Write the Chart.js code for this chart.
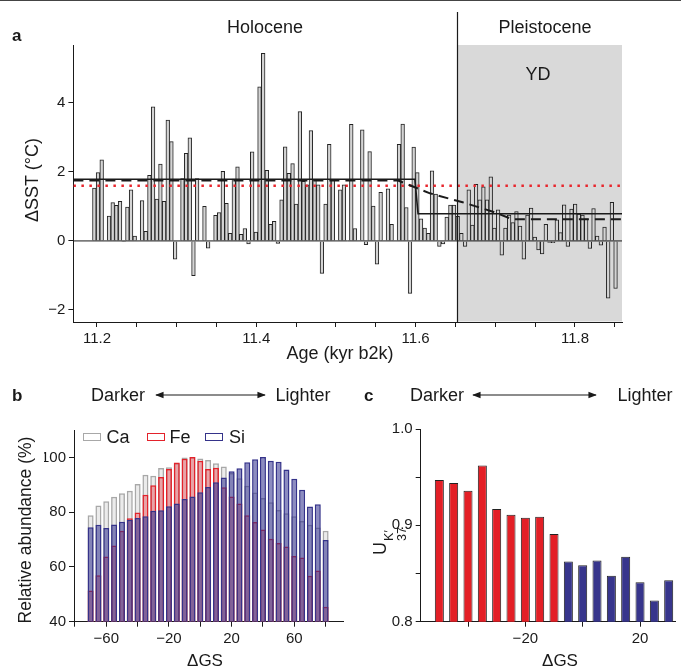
<!DOCTYPE html>
<html>
<head>
<meta charset="utf-8">
<script src="https://cdn.jsdelivr.net/npm/chart.js@4.4.1/dist/chart.umd.min.js"></script>
<style>
  body { margin: 0; background: #fff; }
  #fig { position: relative; width: 681px; height: 670px; overflow: hidden; font-family: "Liberation Sans", Arial, sans-serif; color: #1a1a1a; }
  #fig canvas { position: absolute; left: 0; top: 0; }
  #fig svg { position: absolute; left: 0; top: 0; }
  .t { position: absolute; white-space: nowrap; font-size: 17px; line-height: 1; transform: translate(-50%, -50%); }
  .big { font-size: 18px; }
  .rot { transform: translate(-50%, -50%) rotate(-90deg); }
  .lab { position: absolute; font-weight: bold; font-size: 17px; line-height: 1; }
  .topline { position: absolute; left: 0; top: 0; width: 681px; height: 1px; background: #444; }
  .key { position: absolute; width: 16px; height: 6px; border: 1.5px solid; background: #fff; }
  .ss { display: inline-flex; flex-direction: column; font-size: 12.5px; line-height: 1.0; vertical-align: -7px; margin-left: 1px; }
</style>
</head>
<body>
<div id="fig">
  <div class="topline"></div>
  <canvas id="chartA" width="681" height="670"></canvas>
  <canvas id="chartB" width="681" height="670"></canvas>
  <canvas id="chartC" width="681" height="670"></canvas>

  <svg width="681" height="670">
    <defs>
      <marker id="ah" viewBox="0 0 10 10" refX="9" refY="5" markerWidth="7" markerHeight="7" orient="auto-start-reverse">
        <path d="M0,1 L10,5 L0,9 z" fill="#1a1a1a"/>
      </marker>
    </defs>
    <line x1="156" y1="395" x2="265" y2="395" stroke="#1a1a1a" stroke-width="1.2" marker-start="url(#ah)" marker-end="url(#ah)"/>
    <line x1="473" y1="395" x2="596" y2="395" stroke="#1a1a1a" stroke-width="1.2" marker-start="url(#ah)" marker-end="url(#ah)"/>
  </svg>

  <div class="lab" style="left:12px; top:27px;">a</div>
  <div class="t big" style="left:265px; top:27px;">Holocene</div>
  <div class="t big" style="left:545px; top:27px;">Pleistocene</div>
  <div class="t big" style="left:538px; top:74px;">YD</div>
  <div class="t rot big" style="left:32px; top:180px;">ΔSST (°C)</div>
  <div class="t big" style="left:340px; top:353px;">Age (kyr b2k)</div>

  <div class="lab" style="left:12px; top:387px;">b</div>
  <div class="t big" style="left:118px; top:395px;">Darker</div>
  <div class="t big" style="left:303px; top:395px;">Lighter</div>
  <div class="t rot" style="left:26px; top:530px; font-size:17.5px;">Relative abundance (%)</div>
  <div class="t" style="left:205px; top:660px;">ΔGS</div>
  <div class="key" style="left:83px; top:433px; border-color:#a8a8a8;"></div>
  <div class="t big" style="left:118px; top:437px;">Ca</div>
  <div class="key" style="left:147px; top:433px; border-color:#e3222b;"></div>
  <div class="t big" style="left:180px; top:437px;">Fe</div>
  <div class="key" style="left:205px; top:433px; border-color:#35338a;"></div>
  <div class="t big" style="left:237px; top:437px;">Si</div>

  <div class="lab" style="left:364px; top:387px;">c</div>
  <div class="t big" style="left:437px; top:395px;">Darker</div>
  <div class="t big" style="left:645px; top:395px;">Lighter</div>
  <div class="t rot big" style="left:389px; top:541px;">U<span class="ss"><span>K′</span><span>37</span></span></div>
  <div class="t" style="left:560px; top:660px;">ΔGS</div>
</div>

<script>
var FONT = '"Liberation Sans", Arial, sans-serif';
var INK = '#1a1a1a';
Chart.defaults.font.family = FONT;

// panel a: SST anomaly per sample (null = no value)
var ageFirst = 11.1967;
var ageStep = 0.004607;
var dsst = [
  1.53, 1.98, 2.35, null, 0.72, 1.11, 1.03, 1.15, -0.02, 0.98, 1.48, 0.14, null, 1.17, 0.28, 1.90, 3.89, 1.21, 2.23, 1.15, 3.50, 2.88, -0.53, null,
  1.81, 2.54, 2.99, -1.01, 1.81, null, 1.00, -0.21, null, 0.74, 0.82, 2.02, 1.09, 0.22, 1.79, 2.15, 0.19, 0.36, -0.09, 2.58, 0.26, 4.47, 5.44, 2.05, 0.48, 0.57, -0.07,
  1.19, 2.73, 1.96, 2.24, 1.07, 3.75, 1.73, 1.63, 3.20, 1.77, 1.63, -0.94, 1.07, 2.80, 1.77, null, 1.48, 1.63, null, 3.38, 0.36,
  null, 3.22, -0.11, 2.59, 1.01, -0.67, 1.41, null, 1.51, 0.48, null, 2.80, 3.39, 0.97, -1.52, 2.72, 1.98, 0.64, 0.37, 0.22, 2.03, 1.36, -0.16, -0.09, 0.69, 1.04, 1.04, 0.71,
  0.22, -0.16, 1.48, 0.46, 1.64, 1.19, 1.57, 1.19, 1.86, 0.37, 0.90, -0.41, 0.37, 0.75, 0.53, 0.85, 0.43, -0.53, 0.75, 0.95, 0.11,
  -0.26, -0.38, 0.48, -0.04, -0.05, 0.61, 0.24, 1.05, -0.16, 0.92, 1.07, 0.78, 0.75, 0.64, -0.22, 0.94, 0.14, -0.12, 0.40, -1.66, 1.12, -1.38
];
var ageMin = 11.1704, ageMax = 11.859;
var stepFit = [[ageMin, 1.79], [11.599, 1.79], [11.603, 0.79], [ageMax, 0.79]];
var rampFit = [[ageMin, 1.75], [11.578, 1.75], [11.618, 1.38], [11.659, 1.12], [11.698, 0.84], [11.721, 0.63], [ageMax, 0.63]];
var redLevel = 1.6;
var ydStart = 11.652;

// panel b: relative abundance per grey-scale bin
var gsB = [-70, -65, -60, -55, -50, -45, -40, -35, -30, -25, -20, -15, -10, -5, 0, 5, 10, 15, 20, 25, 30, 35, 40, 45, 50, 55, 60, 65, 70, 75, 80];
var ca = [78.9, 82.4, 84.0, 85.6, 86.9, 87.8, 90.3, 93.7, 93.3, 96.1, 96.4, 97.9, 100.0, 100.1, 99.6, 99.0, 97.9, 96.7, 94.3, 92.4, 89.6, 87.2, 85.2, 83.6, 80.8, 79.6, 78.5, 76.8, 75.4, 74.4, 73.2];
var fe = [51.4, 57.0, 63.8, 67.8, 73.2, 77.8, 79.9, 86.4, 89.8, 92.8, 95.8, 98.1, 99.5, 100.1, 98.8, 95.8, 96.2, 89.1, 85.7, 83.2, 78.9, 76.4, 73.7, 70.3, 68.7, 67.5, 64.0, 63.4, 56.8, 58.7, 45.5];
var si = [74.5, 75.4, 74.2, 75.5, 76.5, 77.2, 77.9, 78.5, 80.5, 80.7, 82.2, 83.2, 84.8, 85.7, 87.3, 89.2, 90.9, 92.7, 94.9, 96.0, 98.2, 99.3, 100.1, 98.8, 98.4, 95.6, 92.2, 88.2, 82.1, 82.9, 69.8];

// panel c: UK'37 per grey-scale bin
var gsC = [-50, -45, -40, -35, -30, -25, -20, -15, -10, -5, 0, 5, 10, 15, 20, 25, 30];
var uk37 = [0.947, 0.944, 0.936, 0.962, 0.917, 0.911, 0.908, 0.909, 0.891, 0.8625, 0.8587, 0.8635, 0.8476, 0.8674, 0.841, 0.822, 0.843];

function minus(v) { return (v < 0 ? '\u2212' : '') + Math.abs(v); }
function every(v, n) { return Math.abs(v * n - Math.round(v * n)) < 1e-6; }

function axis(min, max, step, label, fit) {
  return {
    type: 'linear', min: min, max: max, offset: false,
    grid: { display: true, drawOnChartArea: false, drawTicks: true, tickLength: 5, color: INK, lineWidth: 1, offset: false },
    border: { display: true, color: INK, width: 1 },
    ticks: { stepSize: step, includeBounds: false, autoSkip: false, maxRotation: 0, padding: 3,
             color: INK, font: { family: FONT, size: 15 }, callback: label },
    afterFit: fit
  };
}
function fitX(s) { s.height = 30; }
function fitY(s) { s.width = 30; }
function pts(list) { return list.map(function (p) { return { x: p[0], y: p[1] }; }); }

var shade = {
  id: 'shade',
  beforeDatasetsDraw: function (c) {
    var a = c.chartArea, xb = c.scales.x.getPixelForValue(ydStart);
    c.ctx.save();
    c.ctx.fillStyle = '#d9d9d9';
    c.ctx.fillRect(xb, a.top, a.right - xb, a.bottom - a.top - 0.5);
    c.ctx.restore();
  },
  afterDraw: function (c) {
    var a = c.chartArea, xb = Math.round(c.scales.x.getPixelForValue(ydStart)) + 0.5;
    c.ctx.save();
    c.ctx.strokeStyle = INK;
    c.ctx.lineWidth = 1.2;
    c.ctx.beginPath();
    c.ctx.moveTo(xb, a.top - 33);
    c.ctx.lineTo(xb, a.bottom);
    c.ctx.stroke();
    c.ctx.restore();
  }
};

var line = function (data, color, width, dash, order) {
  return { type: 'line', data: data, borderColor: color, borderWidth: width, borderDash: dash,
           borderCapStyle: 'butt', pointRadius: 0, fill: false, order: order };
};

new Chart(document.getElementById('chartA'), {
  type: 'bar',
  data: {
    datasets: [
      line(pts([[ageMin, 0], [ageMax, 0]]), INK, 1, [], 1),
      line(pts(stepFit), INK, 1.6, [], 2),
      line(pts(rampFit), INK, 2, [10, 6], 3),
      line(pts([[ageMin, redLevel], [ageMax, redLevel]]), '#e8262d', 2.5, [2.5, 5.5], 4),
      { type: 'bar', order: 10,
        data: dsst.map(function (v, i) { return { x: ageFirst + i * ageStep, y: v }; }),
        backgroundColor: '#d4d4d4', borderColor: '#222', borderWidth: 1,
        categoryPercentage: 1, barPercentage: 1 }
    ]
  },
  options: {
    responsive: false, animation: false,
    layout: { padding: { left: 43.4, right: 59, top: 45, bottom: 318 } },
    plugins: { legend: { display: false }, tooltip: { enabled: false } },
    scales: {
      x: axis(ageMin, ageMax, 0.05, function (v) { return every(v, 5) ? v.toFixed(1) : ''; }, fitX),
      y: axis(-2.35, 5.68, 2, function (v) { return minus(v); }, fitY)
    }
  },
  plugins: [shade]
});

function barSet(label, vals, fill, edge, order) {
  return { label: label, order: order, grouped: false,
           data: vals.map(function (v, i) { return { x: gsB[i], y: v }; }),
           backgroundColor: fill, borderColor: edge, borderWidth: 1.5,
           categoryPercentage: 1, barPercentage: 0.77 };
}

new Chart(document.getElementById('chartB'), {
  type: 'bar',
  data: {
    datasets: [
      barSet('Ca', ca, 'rgba(190,190,190,0.3)', '#a8a8a8', 3),
      barSet('Fe', fe, 'rgba(225,30,40,0.35)', '#e3222b', 2),
      barSet('Si', si, 'rgba(45,45,140,0.55)', '#35338a', 1)
    ]
  },
  options: {
    responsive: false, animation: false,
    layout: { padding: { left: 44, right: 338, top: 430, bottom: 18.3 } },
    plugins: { legend: { display: false }, tooltip: { enabled: false } },
    scales: {
      x: axis(-80.6, 91.1, 20, function (v) { return Math.abs(v) % 40 === 20 ? minus(v) : ''; }, fitX),
      y: axis(40, 110, 20, function (v) { return String(v); }, fitY)
    }
  }
});

new Chart(document.getElementById('chartC'), {
  type: 'bar',
  data: {
    datasets: [{
      data: uk37.map(function (v, i) { return { x: gsC[i], y: v }; }),
      backgroundColor: gsC.map(function (g) { return g <= -10 ? '#e31f26' : '#37358c'; }),
      borderColor: '#222', borderWidth: 1,
      categoryPercentage: 1, barPercentage: 0.63
    }]
  },
  options: {
    responsive: false, animation: false,
    layout: { padding: { left: 390.7, right: 6, top: 429, bottom: 18.3 } },
    plugins: { legend: { display: false }, tooltip: { enabled: false } },
    scales: {
      x: axis(-56.5, 32.2, 20, function (v) { return Math.abs(v) % 40 === 20 ? minus(v) : ''; }, fitX),
      y: axis(0.8, 1.0, 0.05, function (v) { return every(v, 10) ? v.toFixed(1) : ''; }, fitY)
    }
  }
});
</script>
</body>
</html>
